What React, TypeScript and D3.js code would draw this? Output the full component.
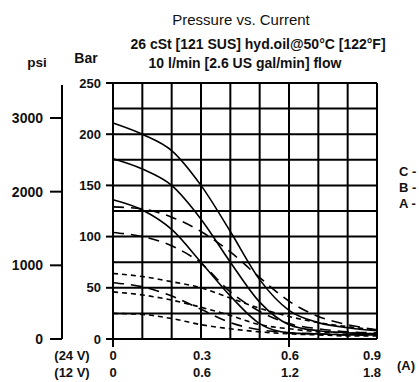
import React from "react";
import * as d3 from "d3";

const currents = [0, 0.1, 0.2, 0.3, 0.4, 0.5, 0.6, 0.7, 0.8, 0.9];
const solidTop = [211, 200, 184, 150, 105, 58, 28, 16, 11, 8];
const solidMid = [176, 166, 150, 117, 75, 36, 14, 8, 6, 5];
const solidLow = [136, 126, 107, 75, 42, 15, 6, 5, 4, 4];
const longDash1 = [129, 127, 119, 105, 85, 60, 37, 22, 14, 9];
const longDash2 = [104, 100, 91, 74, 46, 27, 15, 10, 7, 6];
const longDash3 = [55, 51, 42, 29, 16, 9, 6, 5, 4, 4];
const shortDash1 = [64, 61, 56, 50, 40, 30, 22, 16, 12, 9];
const shortDash2 = [46, 43, 38, 31, 23, 14, 10, 7, 6, 5];
const shortDash3 = [25, 24, 20, 14, 10, 7, 5, 4, 3, 3];

const barTicks = [0, 50, 100, 150, 200, 250];
const psiTicks = [0, 1000, 2000, 3000];
const xTicks24 = ["0", "0.3", "0.6", "0.9"];
const xTicks12 = ["0", "0.6", "1.2", "1.8"];
const xTickVals = [0, 0.3, 0.6, 0.9];
const legendLabels = ["C -", "B -", "A -"];

export default function App() {
  const x = d3.scaleLinear().domain([0, 0.9]).range([113, 377]);
  const y = d3.scaleLinear().domain([0, 250]).range([339, 83]);
  const psi = d3.scaleLinear().domain([0, 3000]).range([339, 118]);
  const line = d3
    .line<number>()
    .x((_, i) => x(currents[i]))
    .y((d) => y(d))
    .curve(d3.curveMonotoneX);

  const vGrid = d3.range(0, 0.9001, 0.1);
  const hGrid = d3.range(0, 250.01, 25);
  const font = "Liberation Sans, Arial, sans-serif";

  const series: { data: number[]; dash?: string }[] = [
    { data: solidTop },
    { data: solidMid },
    { data: solidLow },
    { data: longDash1, dash: "11,7" },
    { data: longDash2, dash: "11,7" },
    { data: longDash3, dash: "11,7" },
    { data: shortDash1, dash: "5,4" },
    { data: shortDash2, dash: "5,4" },
    { data: shortDash3, dash: "5,4" },
  ];

  return (
    <svg
      width={419}
      height={382}
      style={{ position: "absolute", left: 0, top: 0, background: "#fff" }}
      fontFamily={font}
    >
      <rect width={419} height={382} fill="#fff" />
      <text x={241} y={25} textAnchor="middle" fontSize={15} fill="#111">
        Pressure vs. Current
      </text>
      <text x={258} y={49} textAnchor="middle" fontSize={14} fontWeight="bold" fill="#111">
        26 cSt [121 SUS] hyd.oil@50°C [122°F]
      </text>
      <text x={245} y={68} textAnchor="middle" fontSize={14} fontWeight="bold" fill="#111">
        10 l/min [2.6 US gal/min] flow
      </text>
      <text x={37} y={67} textAnchor="middle" fontSize={13.5} fontWeight="bold" fill="#111">
        psi
      </text>
      <text x={86} y={63} textAnchor="middle" fontSize={14} fontWeight="bold" fill="#111">
        Bar
      </text>

      {/* grid */}
      {vGrid.map((v, i) => (
        <line key={"v" + i} x1={x(v)} x2={x(v)} y1={y(250)} y2={y(0)} stroke="#000" strokeWidth={2} />
      ))}
      {hGrid.map((v, i) => (
        <line key={"h" + i} x1={x(0)} x2={x(0.9)} y1={y(v)} y2={y(v)} stroke="#000" strokeWidth={2} />
      ))}

      {/* bar ticks */}
      {barTicks.map((t) => (
        <g key={"b" + t}>
          <line x1={x(0) - 7} x2={x(0)} y1={y(t)} y2={y(t)} stroke="#000" strokeWidth={2} />
          <text x={101} y={y(t) + 4.5} textAnchor="end" fontSize={13} fontWeight="bold" fill="#111">
            {t}
          </text>
        </g>
      ))}
      {/* x ticks */}
      <line x1={x(0)} x2={x(0)} y1={y(0)} y2={y(0) + 8} stroke="#000" strokeWidth={2} />
      <line x1={x(0.6)} x2={x(0.6)} y1={y(0)} y2={y(0) + 8} stroke="#000" strokeWidth={2} />

      {/* psi axis */}
      <line x1={62} x2={62} y1={85} y2={psi(0)} stroke="#000" strokeWidth={2} />
      {psiTicks.map((t) => (
        <g key={"p" + t}>
          <line x1={50} x2={62} y1={psi(t)} y2={psi(t)} stroke="#000" strokeWidth={2} />
          <text x={43} y={psi(t) + 5} textAnchor="end" fontSize={14} fontWeight="bold" fill="#111">
            {t}
          </text>
        </g>
      ))}

      {/* curves */}
      {series.map((s, i) => (
        <path
          key={"s" + i}
          d={line(s.data) || ""}
          fill="none"
          stroke="#000"
          strokeWidth={1.6}
          strokeDasharray={s.dash}
        />
      ))}

      {/* x labels */}
      <text x={72} y={360} textAnchor="middle" fontSize={13} fontWeight="bold" fill="#111">
        (24 V)
      </text>
      <text x={72} y={377} textAnchor="middle" fontSize={13} fontWeight="bold" fill="#111">
        (12 V)
      </text>
      {xTickVals.map((v, i) => (
        <g key={"xl" + i}>
          <text x={x(v) + (i === 0 ? 0 : i === 3 ? -5 : 1)} y={360} textAnchor="middle" fontSize={13} fontWeight="bold" fill="#111">
            {xTicks24[i]}
          </text>
          <text x={x(v) + (i === 0 ? 0 : i === 3 ? -5 : 1)} y={377} textAnchor="middle" fontSize={13} fontWeight="bold" fill="#111">
            {xTicks12[i]}
          </text>
        </g>
      ))}
      <text x={397} y={370} fontSize={13} fontWeight="bold" fill="#111">
        (A)
      </text>

      {/* legend */}
      {legendLabels.map((l, i) => (
        <text key={l} x={399} y={176 + i * 16} fontSize={13} fontWeight="bold" fill="#111">
          {l}
        </text>
      ))}
    </svg>
  );
}
